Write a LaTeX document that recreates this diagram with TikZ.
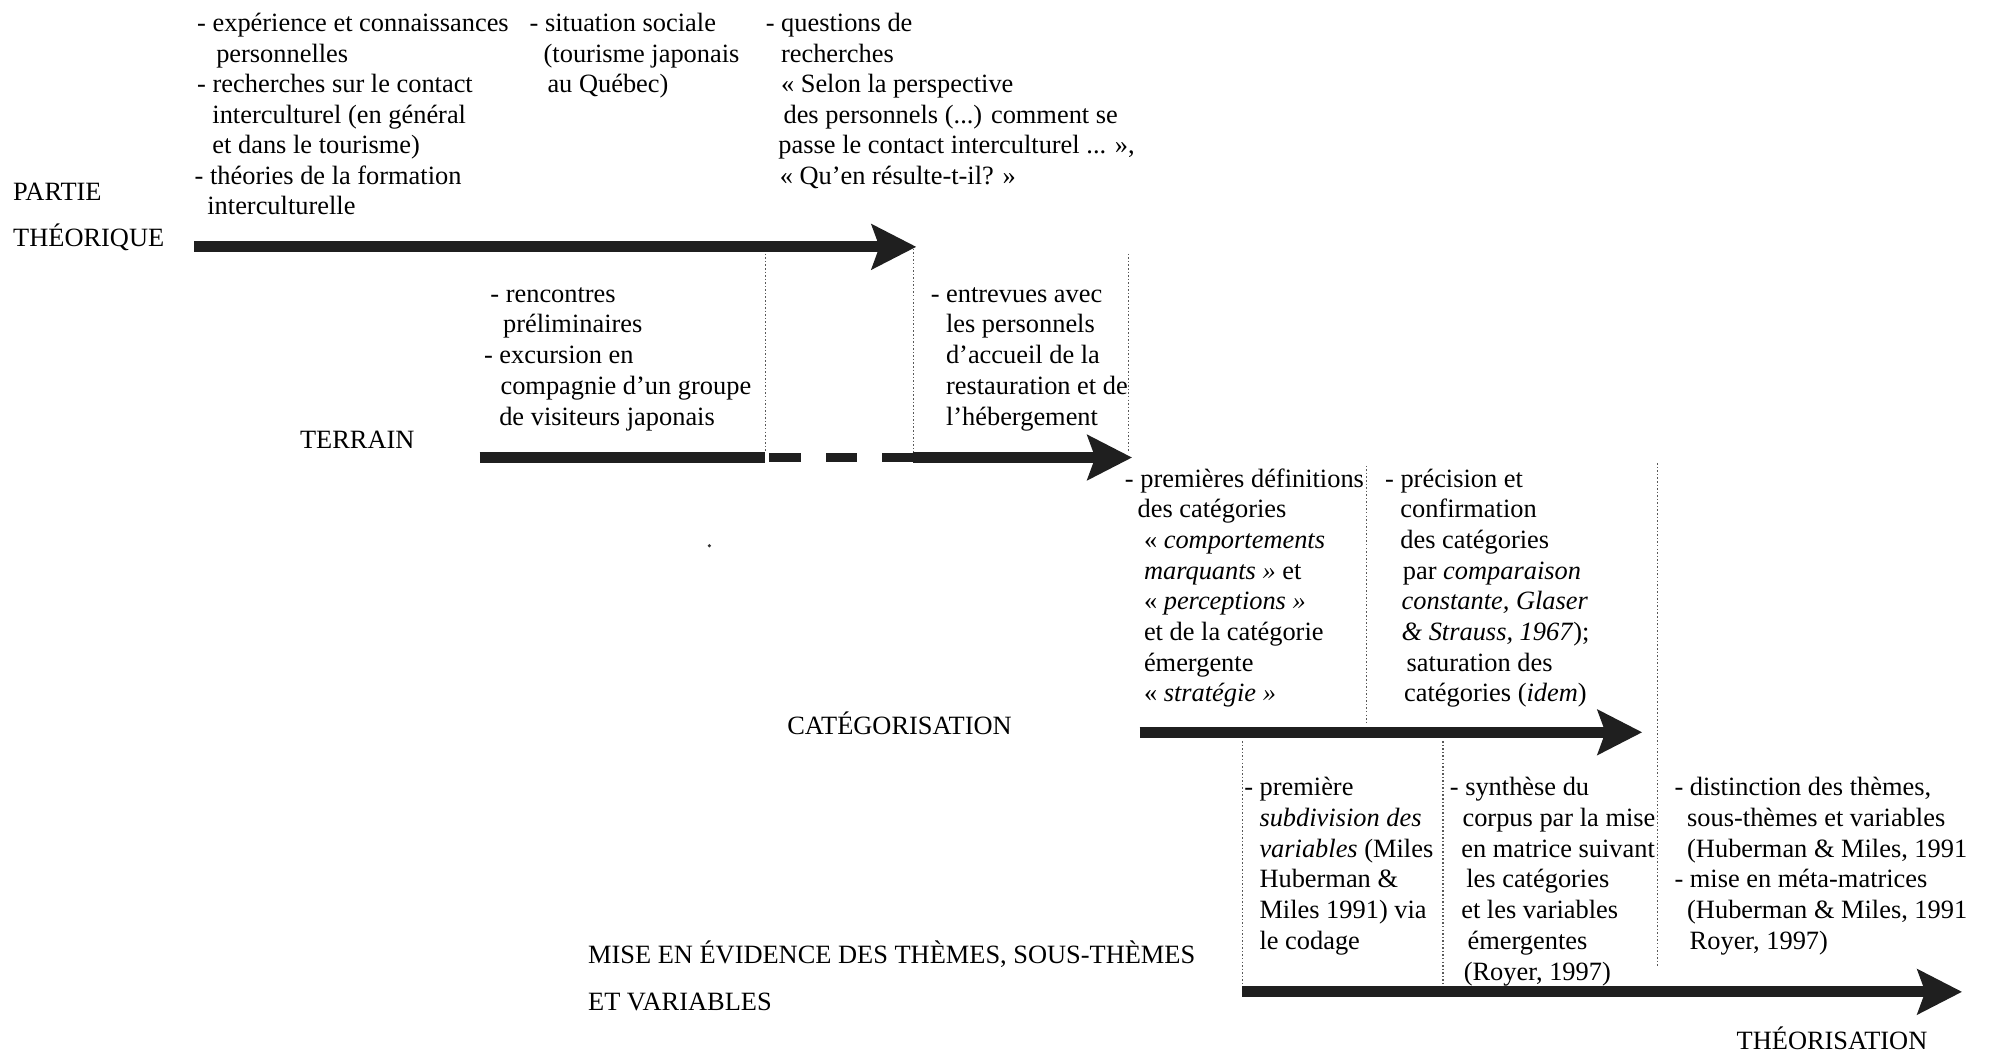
\documentclass[tikz,border=0pt]{standalone}
\usepackage{fontspec}
\setmainfont{Liberation Serif}
\usetikzlibrary{arrows.meta}
\begin{document}
\begin{tikzpicture}[x=0.5pt,y=-0.5pt,
  txt/.style={anchor=base west,inner sep=0pt,font=\fontsize{10.4}{12}\selectfont,text=black},
  bigarrow/.style={line width=4.35pt,draw=black!88,line cap=butt,-{Stealth[length=17.5pt,width=17.5pt,inset=3pt]}},
  shaft/.style={line width=4.35pt,draw=black!88,line cap=butt},
  dashpiece/.style={line width=3.6pt,draw=black!88,line cap=butt},
  guide/.style={draw=black!65,line width=0.45pt,dash pattern=on 0.6pt off 0.8pt}]
\fill[white] (0,0) rectangle (1568,830);
\useasboundingbox (0,0) rectangle (1568,830);

% guide lines
\coordinate (g1a) at (603,200); \coordinate (g1b) at (603,356);
\coordinate (g2a) at (720,196); \coordinate (g2b) at (720,356);
\coordinate (g3a) at (889,200); \coordinate (g3b) at (889,356);
\coordinate (g4a) at (1077,367); \coordinate (g4b) at (1077,571);
\coordinate (g5a) at (1306,365); \coordinate (g5b) at (1306,762);
\coordinate (g6a) at (979,584); \coordinate (g6b) at (979,776);
\coordinate (g7a) at (1137,584); \coordinate (g7b) at (1137,776);
\foreach \g in {1,...,7} \draw[guide] (g\g a) -- (g\g b);

% arrows
\coordinate (a1s) at (153,194.5); \coordinate (a1e) at (722,194.5);
\draw[bigarrow] (a1s) -- (a1e);
\coordinate (a2s) at (378,360.5); \coordinate (a2m) at (603,360.5);
\coordinate (d1s) at (606,360.5); \coordinate (d1e) at (631,360.5);
\coordinate (d2s) at (651,360.5); \coordinate (d2e) at (675,360.5);
\coordinate (d3s) at (695,360.5); \coordinate (d3e) at (719,360.5);
\coordinate (a2r) at (719,360.5); \coordinate (a2e) at (892,360.5);
\draw[shaft] (a2s) -- (a2m);
\draw[dashpiece] (d1s) -- (d1e);
\draw[dashpiece] (d2s) -- (d2e);
\draw[dashpiece] (d3s) -- (d3e);
\draw[bigarrow] (a2r) -- (a2e);
\coordinate (a3s) at (898,577); \coordinate (a3e) at (1294,577);
\draw[bigarrow] (a3s) -- (a3e);
\coordinate (a4s) at (979,781.5); \coordinate (a4e) at (1546,781.5);
\draw[bigarrow] (a4s) -- (a4e);

% stray speck
\fill[black!80] (559,430) circle (1.4);

% phase labels
\node[txt] (lp1) at (10,158) {PARTIE};
\node[txt] (lp2) at (10,194) {THÉORIQUE};
\node[txt] (lt) at (236,353) {TERRAIN};
\node[txt] (lc) at (620,579) {CATÉGORISATION};
\node[txt] (lm1) at (463,759) {MISE EN ÉVIDENCE DES THÈMES, SOUS-THÈMES};
\node[txt] (lm2) at (463,796) {ET VARIABLES};
\node[txt] (lth) at (1368,827) {THÉORISATION};

% block A
\foreach \dx/\t [count=\i] in {
  155/{- expérience et connaissances},
  170/{personnelles},
  155/{- recherches sur le contact},
  167/{interculturel (en général},
  167/{et dans le tourisme)},
  153/{- théories de la formation},
  163/{interculturelle}}
  \node[txt] (A\i) at (\dx,{25+(\i-1)*24}) {\t};

% block B
\foreach \dx/\t [count=\i] in {
  417/{- situation sociale},
  428/{(tourisme japonais},
  431/{au Québec)}}
  \node[txt] (B\i) at (\dx,{25+(\i-1)*24}) {\t};

% block C
\foreach \dx/\t [count=\i] in {
  603/{- questions de},
  615/{recherches},
  615/{« Selon la perspective},
  617/{des personnels (...) comment se},
  613/{passe le contact interculturel ... »,},
  614/{« Qu’en résulte-t-il? »}}
  \node[txt] (C\i) at (\dx,{25+(\i-1)*24}) {\t};

% block D
\foreach \dx/\t [count=\i] in {
  386/{- rencontres},
  396/{préliminaires},
  381/{- excursion en},
  394/{compagnie d’un groupe},
  393/{de visiteurs japonais}}
  \node[txt] (D\i) at (\dx,{238+(\i-1)*24.25}) {\t};

% block E
\foreach \dx/\t [count=\i] in {
  733/{- entrevues avec},
  745/{les personnels},
  745/{d’accueil de la},
  745/{restauration et de},
  745/{l’hébergement}}
  \node[txt] (E\i) at (\dx,{238+(\i-1)*24.25}) {\t};

% block F
\foreach \dx/\t [count=\i] in {
  886/{- premières définitions},
  896/{des catégories},
  901/{« \textit{comportements}},
  901/{\textit{marquants »} et},
  901/{« \textit{perceptions »}},
  901/{et de la catégorie},
  901/{émergente},
  901/{« \textit{stratégie »}}}
  \node[txt] (F\i) at (\dx,{384+(\i-1)*24.14}) {\t};

% block G
\foreach \dx/\t [count=\i] in {
  1091/{- précision et},
  1103/{confirmation},
  1103/{des catégories},
  1105/{par \textit{comparaison}},
  1104/{\textit{constante, Glaser}},
  1104/{\textit{\& Strauss, 1967});},
  1108/{saturation des},
  1106/{catégories (\textit{idem})}}
  \node[txt] (G\i) at (\dx,{384+(\i-1)*24.14}) {\t};

% block H
\foreach \dx/\t [count=\i] in {
  980/{- première},
  992/{\textit{subdivision des}},
  992/{\textit{variables} (Miles},
  992/{Huberman \&},
  992/{Miles 1991) via},
  992/{le codage}}
  \node[txt] (H\i) at (\dx,{627+(\i-1)*24.2}) {\t};

% block I
\foreach \dx/\t [count=\i] in {
  1142/{- synthèse du},
  1152/{corpus par la mise},
  1151/{en matrice suivant},
  1155/{les catégories},
  1151/{et les variables},
  1156/{émergentes},
  1153/{(Royer, 1997)}}
  \node[txt] (I\i) at (\dx,{627+(\i-1)*24.2}) {\t};

% block J
\foreach \dx/\t [count=\i] in {
  1319/{- distinction des thèmes,},
  1329/{sous-thèmes et variables},
  1329/{(Huberman \& Miles, 1991},
  1319/{- mise en méta-matrices},
  1329/{(Huberman \& Miles, 1991},
  1331/{Royer, 1997)}}
  \node[txt] (J\i) at (\dx,{627+(\i-1)*24.2}) {\t};
\end{tikzpicture}
\end{document}
